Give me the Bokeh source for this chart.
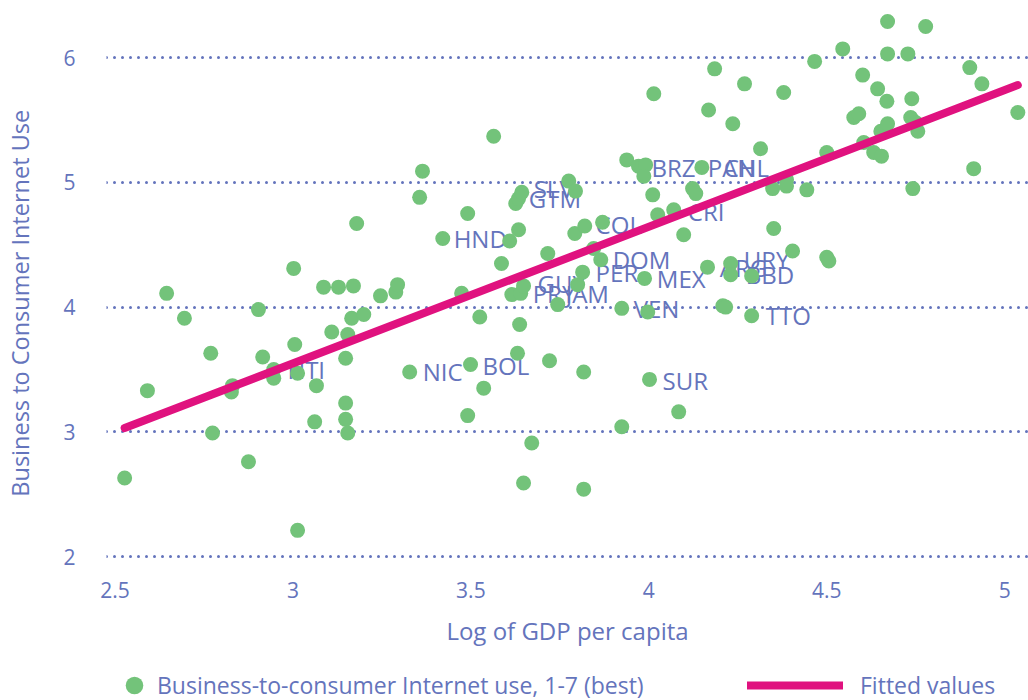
from bokeh.plotting import figure
from bokeh.layouts import column
from bokeh.models import ColumnDataSource, FixedTicker, Range1d, Legend, LegendItem
from bokeh.embed import file_html
from bokeh.resources import INLINE
from bokeh.core.properties import value

# Log of GDP per capita (x) and Business-to-consumer Internet use (y)
gdp_log = [
    2.527, 2.591, 2.645, 2.695, 2.769, 2.774, 2.830, 2.827, 2.875, 2.903,
    2.915, 2.946, 2.946, 3.002, 3.005, 3.013, 3.013, 3.061, 3.066, 3.086,
    3.109, 3.128, 3.148, 3.148, 3.148, 3.154, 3.154, 3.165, 3.170, 3.179,
    3.199, 3.246, 3.289, 3.294, 3.328, 3.356, 3.364, 3.421, 3.474, 3.491,
    3.491, 3.499, 3.525, 3.536, 3.564, 3.586, 3.609, 3.615, 3.626, 3.634, 3.643,
    3.631, 3.634, 3.637, 3.640, 3.648, 3.648, 3.671, 3.716, 3.721,
    3.744, 3.775, 3.794, 3.792, 3.800, 3.814, 3.817, 3.817, 3.820,
    3.845, 3.865, 3.870, 3.924, 3.924, 3.938, 3.971, 3.991, 3.986, 3.988,
    3.997, 4.002, 4.011, 4.014, 4.025, 4.070, 4.084, 4.098, 4.123, 4.132,
    4.149, 4.165, 4.168, 4.185, 4.208, 4.216, 4.230, 4.230, 4.236, 4.269,
    4.289, 4.289, 4.314, 4.348, 4.351, 4.379, 4.387, 4.387, 4.404, 4.444,
    4.466, 4.500, 4.500, 4.506, 4.545, 4.576, 4.590, 4.601, 4.604, 4.632,
    4.643, 4.652, 4.654, 4.669, 4.671, 4.671, 4.671, 4.728, 4.736, 4.739,
    4.742, 4.750, 4.756, 4.778, 4.902, 4.913, 4.936, 5.037,
]
b2c_use = [
    2.63, 3.33, 4.11, 3.91, 3.63, 2.99, 3.37, 3.32, 2.76, 3.98,
    3.60, 3.50, 3.43, 4.31, 3.70, 3.47, 2.21, 3.08, 3.37, 4.16,
    3.80, 4.16, 3.59, 3.23, 3.10, 2.99, 3.78, 3.91, 4.17, 4.67,
    3.94, 4.09, 4.12, 4.18, 3.48, 4.88, 5.09, 4.55, 4.11, 4.75,
    3.13, 3.54, 3.92, 3.35, 5.37, 4.35, 4.53, 4.10, 4.83, 4.87, 4.92,
    3.63, 4.62, 3.86, 4.11, 4.17, 2.59, 2.91, 4.43, 3.57,
    4.02, 5.01, 4.93, 4.59, 4.18, 4.28, 3.48, 2.54, 4.65,
    4.47, 4.38, 4.68, 3.99, 3.04, 5.18, 5.13, 5.14, 5.05, 4.23,
    3.96, 3.42, 4.90, 5.71, 4.74, 4.78, 3.16, 4.58, 4.95, 4.91,
    5.12, 4.32, 5.58, 5.91, 4.01, 4.00, 4.35, 4.26, 5.47, 5.79,
    4.25, 3.93, 5.27, 4.95, 4.63, 5.72, 5.02, 4.97, 4.45, 4.94,
    5.97, 5.24, 4.40, 4.37, 6.07, 5.52, 5.55, 5.86, 5.32, 5.24,
    5.75, 5.41, 5.21, 5.65, 6.29, 6.03, 5.47, 6.03, 5.52, 5.67,
    4.95, 5.48, 5.41, 6.25, 5.92, 5.11, 5.79, 5.56,
]

# Fitted values (endpoints of the regression line)
fit_x = [2.527, 5.037]
fit_y = [3.03, 5.78]

# Country labels
label_names = ["HTI", "NIC", "BOL", "HND", "SLV", "GTM", "GUY", "PRY", "JAM", "PER",
               "COL", "DOM", "BRZ", "PAN", "CHL", "CRI", "MEX", "VEN", "SUR", "ARG",
               "URY", "BBD", "TTO"]
label_x = [2.948, 3.328, 3.496, 3.415, 3.640, 3.626, 3.651, 3.637, 3.730, 3.814,
           3.814, 3.862, 3.971, 4.129, 4.174, 4.073, 3.986, 3.921, 4.002, 4.163,
           4.230, 4.236, 4.292]
label_y = [3.50, 3.48, 3.53, 4.55, 4.95, 4.87, 4.19, 4.11, 4.11, 4.28,
           4.66, 4.38, 5.12, 5.12, 5.12, 4.77, 4.23, 3.99, 3.41, 4.32,
           4.38, 4.26, 3.93]

xtick_values = [2.5, 3, 3.5, 4, 4.5, 5]
xtick_labels = ["2.5", "3", "3.5", "4", "4.5", "5"]
ytick_values = [2, 3, 4, 5, 6]
ytick_labels = ["2", "3", "4", "5", "6"]

TEXT = "#6474BC"
GREEN = "#73C37A"
MAGENTA = "#E0127F"
FONT = "Open Sans"

p = figure(width=1028, height=656,
           x_range=Range1d(2.476, 5.067), y_range=Range1d(1.928, 6.378),
           output_backend="svg", toolbar_location=None,
           min_border_left=106, min_border_right=0, min_border_top=10, min_border_bottom=91)
p.outline_line_color = None
p.background_fill_color = "white"

for ax in (p.xaxis[0], p.yaxis[0]):
    ax.axis_line_color = None
    ax.major_tick_line_color = None
    ax.minor_tick_line_color = None
    ax.major_tick_out = 0
    ax.major_tick_in = 0
    ax.minor_tick_out = 0
    ax.minor_tick_in = 0
    ax.major_label_text_color = TEXT
    ax.major_label_text_font = FONT
    ax.major_label_text_font_size = "21px"
    ax.axis_label_text_color = TEXT
    ax.axis_label_text_font = FONT
    ax.axis_label_text_font_size = "24px"
    ax.axis_label_text_font_style = "normal"

p.xaxis.ticker = FixedTicker(ticks=xtick_values)
p.xaxis.major_label_overrides = dict(zip(xtick_values, xtick_labels))
p.yaxis.ticker = FixedTicker(ticks=ytick_values)
p.yaxis.major_label_overrides = dict(zip(ytick_values, ytick_labels))
p.xaxis.axis_label = "Log of GDP per capita"
# trailing no-break spaces nudge the rotated title slightly lower, as in the original
p.yaxis.axis_label = "Business to Consumer Internet Use" + "\u00a0" * 5
p.yaxis.axis_label_text_font_size = "23.5px"
p.xaxis.major_label_standoff = 16
p.xaxis.axis_label_standoff = 13
p.yaxis.major_label_standoff = 31
p.yaxis.axis_label_standoff = 24

p.xgrid.visible = False
p.ygrid.grid_line_color = TEXT
p.ygrid.grid_line_width = 3
p.ygrid.grid_line_dash = "0 8"
p.ygrid.grid_line_cap = "round"

# Country labels sit under the points
lab_src = ColumnDataSource(dict(x=label_x, y=label_y, name=label_names))
p.text(x="x", y="y", text="name", source=lab_src, x_offset=13,
       text_font=value(FONT), text_font_size="24px", text_color=TEXT,
       text_align="left", text_baseline="middle")

src = ColumnDataSource(dict(x=gdp_log, y=b2c_use))
p.scatter(x="x", y="y", source=src, size=15, fill_color=GREEN, line_color=None)

fit_src = ColumnDataSource(dict(x=fit_x, y=fit_y))
p.line(x="x", y="y", source=fit_src, line_color=MAGENTA, line_width=8, line_cap="round")

# Legend strip: its own small figure (ranges far from the data, so only the legend shows)
lf = figure(width=1028, height=44, x_range=Range1d(0, 1), y_range=Range1d(0, 1),
            output_backend="svg", toolbar_location=None,
            x_axis_location=None, y_axis_location=None, min_border=0)
lf.outline_line_color = None
lf.xgrid.visible = False
lf.ygrid.visible = False
leg_pts = lf.scatter(x="x", y="y", source=src, size=15, fill_color=GREEN, line_color=None)
leg_fit = lf.line(x="x", y="y", source=fit_src, line_color=MAGENTA, line_width=8, line_cap="round")

leg_common = dict(orientation="horizontal", padding=0, margin=0, spacing=0,
                  border_line_color=None, background_fill_alpha=0,
                  label_text_font=FONT, label_text_font_size="23px",
                  label_text_color=TEXT, glyph_height=44)
leg1 = Legend(items=[LegendItem(label="Business-to-consumer Internet use, 1-7 (best)", renderers=[leg_pts])],
              location=(6, -7), glyph_width=44, label_standoff=1, **leg_common)
leg2 = Legend(items=[LegendItem(label="Fitted values", renderers=[leg_fit])],
              location=(641, -7), glyph_width=96, label_standoff=17, **leg_common)
lf.add_layout(leg1)
lf.add_layout(leg2)

layout = column(p, lf, spacing=0)
open("out.html", "w").write(file_html(layout, INLINE))
